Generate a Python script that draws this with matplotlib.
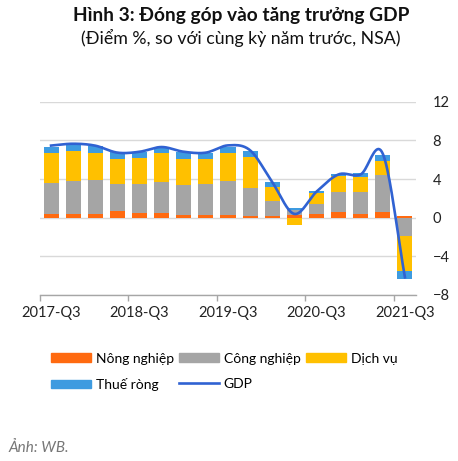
import matplotlib
matplotlib.use("Agg")
import matplotlib.pyplot as plt
import numpy as np
from matplotlib.patches import Patch
from matplotlib.lines import Line2D

plt.rcParams['font.family'] = ['Lato', 'DejaVu Sans']

quarters = ["2017-Q3", "2017-Q4", "2018-Q1", "2018-Q2", "2018-Q3", "2018-Q4",
            "2019-Q1", "2019-Q2", "2019-Q3", "2019-Q4", "2020-Q1", "2020-Q2",
            "2020-Q3", "2020-Q4", "2021-Q1", "2021-Q2", "2021-Q3"]
nong_nghiep = [0.38, 0.41, 0.41, 0.66, 0.45, 0.48, 0.28, 0.31, 0.28, 0.20, 0.20,
               0.25, 0.34, 0.55, 0.34, 0.62, 0.15]
cong_nghiep = [3.17, 3.42, 3.52, 2.86, 3.07, 3.18, 3.06, 3.21, 3.55, 2.90, 1.56,
               0.55, 1.11, 2.07, 2.28, 3.76, -1.90]
dich_vu = [3.17, 3.07, 2.73, 2.58, 2.68, 3.00, 2.76, 2.51, 2.89, 3.20, 1.38,
           -0.75, 1.07, 1.69, 1.55, 1.52, -3.60]
thue_rong = [0.62, 0.69, 0.79, 0.69, 0.60, 0.62, 0.69, 0.63, 0.62, 0.56, 0.52,
             0.15, 0.24, 0.19, 0.42, 0.58, -0.83]
gdp = [7.46, 7.65, 7.45, 6.73, 6.82, 7.31, 6.82, 6.73, 7.48, 6.97, 3.68, 0.39,
       2.69, 4.48, 4.48, 6.61, -6.17]

names = ["Nông nghiệp", "Công nghiệp", "Dịch vụ", "Thuế ròng"]
colors = ["#FF6A10", "#A5A5A5", "#FFC000", "#3E9BE0"]
line_color = "#3062D2"


def smooth(y, n=20):
    # catmull-rom style smoothing like the excel line
    y = np.asarray(y, float)
    x = np.arange(len(y), dtype=float)
    px = np.concatenate([[2 * x[0] - x[1]], x, [2 * x[-1] - x[-2]]])
    py = np.concatenate([[2 * y[0] - y[1]], y, [2 * y[-1] - y[-2]]])
    xs, ys = [], []
    for i in range(1, len(px) - 2):
        t = np.linspace(0, 1, n, endpoint=False)
        for arr, out in ((px, xs), (py, ys)):
            p0, p1, p2, p3 = arr[i - 1], arr[i], arr[i + 1], arr[i + 2]
            out.extend(0.5 * ((2 * p1) + (-p0 + p2) * t +
                              (2 * p0 - 5 * p1 + 4 * p2 - p3) * t ** 2 +
                              (-p0 + 3 * p1 - 3 * p2 + p3) * t ** 3))
    xs.append(x[-1])
    ys.append(y[-1])
    return np.array(xs), np.array(ys)


fig = plt.figure(figsize=(4.58, 4.61), dpi=100)
ax = fig.add_axes([40 / 458, 1 - 295 / 461, 376 / 458, (295 - 101.7) / 461])

x = np.arange(len(quarters))
pos = np.zeros(len(x))
neg = np.zeros(len(x))
for vals, c in zip([nong_nghiep, cong_nghiep, dich_vu, thue_rong], colors):
    v = np.array(vals)
    bottom = np.where(v >= 0, pos, neg)
    ax.bar(x, v, bottom=bottom, width=0.68, color=c, zorder=2)
    pos = pos + np.where(v >= 0, v, 0)
    neg = neg + np.where(v < 0, v, 0)

sx, sy = smooth(gdp)
ax.plot(sx, sy, color=line_color, lw=1.9, zorder=3)

ax.set_xlim(-0.5, len(x) - 0.5)
ax.set_ylim(-8, 12)
ax.set_yticks([-8, -4, 0, 4, 8, 12])
ax.yaxis.tick_right()
ax.tick_params(axis='y', length=0, pad=12, labelsize=10.5, colors="#222222")
ax.grid(axis='y', color="#d9d9d9", lw=1, zorder=0)

ax.set_xticks(np.arange(-0.5, len(x), 4))
ax.set_xticklabels([])
ax.set_xticks(x[::4], minor=True)
ax.set_xticklabels(quarters[::4], minor=True)
ax.tick_params(axis='x', which='major', length=4, color="#a6a6a6", width=1)
ax.tick_params(axis='x', which='minor', length=0, pad=8, labelsize=10.5,
               colors="#222222")

for s in ["top", "right", "left"]:
    ax.spines[s].set_visible(False)
ax.spines["bottom"].set_color("#a6a6a6")
ax.spines["bottom"].set_linewidth(1)

fig.text(0.526, 0.967, "Hình 3: Đóng góp vào tăng trưởng GDP", ha='center',
         va='center', fontsize=13.8, fontweight='bold', color="#111111")
fig.text(0.526, 0.917, "(Điểm %, so với cùng kỳ năm trước, NSA)", ha='center',
         va='center', fontsize=12.8, color="#111111")

handles = [Patch(color=colors[0], label=names[0]),
           Patch(color=colors[3], label=names[3]),
           Patch(color=colors[1], label=names[1]),
           Line2D([], [], color=line_color, lw=1.9, label="GDP"),
           Patch(color=colors[2], label=names[2])]
fig.legend(handles=handles, ncol=3, loc='upper left',
           bbox_to_anchor=(38 / 458, 1 - 340 / 461), frameon=False,
           fontsize=10, handlelength=2.9, handleheight=0.55,
           handletextpad=0.35, columnspacing=0.35, labelspacing=0.95)

fig.text(8 / 458, 1 - 448 / 461, "Ảnh: WB.", ha='left', va='center',
         fontsize=11, style='italic', color="#777777")

fig.savefig("out.png", dpi=100)
